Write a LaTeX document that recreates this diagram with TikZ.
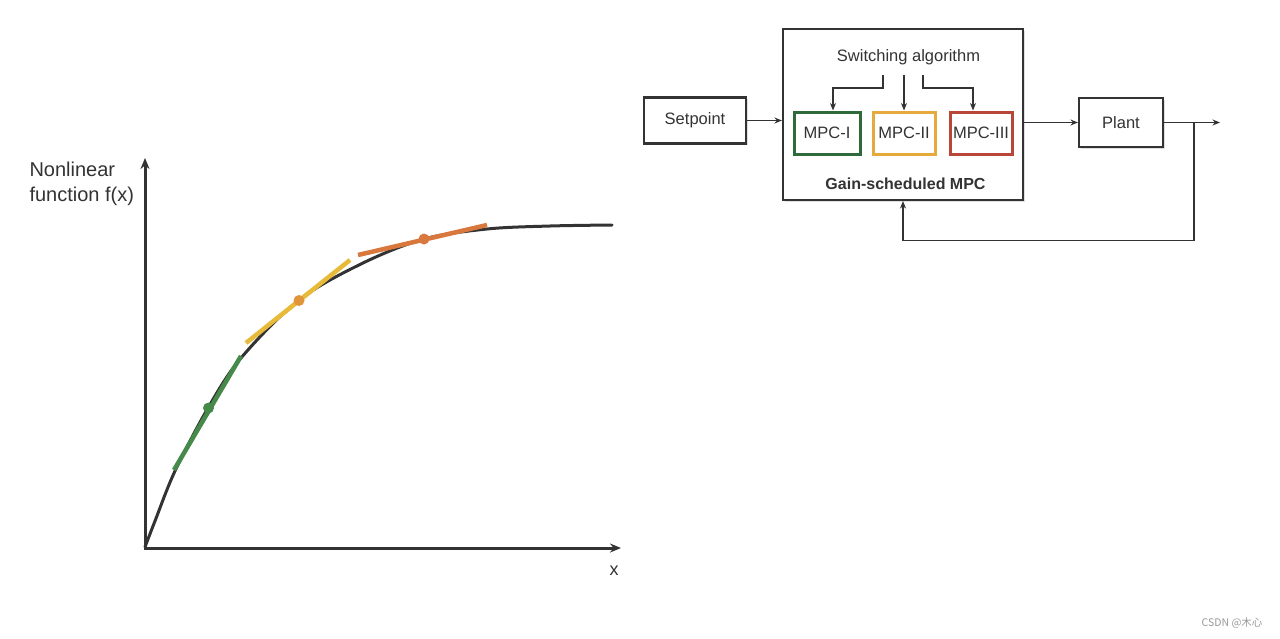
\documentclass[tikz,border=0pt]{standalone}
\usepackage{fontspec}
\setmainfont{Liberation Sans}
\newfontfamily\cjkfont{Noto Sans CJK SC}
\usetikzlibrary{arrows.meta,shadows}
\definecolor{ink}{HTML}{333333}
\definecolor{cgreen}{HTML}{2F6B3A}
\definecolor{cyellow}{HTML}{E6A93C}
\definecolor{cred}{HTML}{B8473A}
\definecolor{tgreen}{HTML}{458A48}
\definecolor{tyellow}{HTML}{E8BA3A}
\definecolor{torange}{HTML}{D9783C}
\definecolor{dyellow}{HTML}{E0953A}
\begin{document}
\begin{tikzpicture}[x=1pt,y=-1pt,
  lbl/.style={font=\fontsize{16.5}{18}\selectfont, text=ink},
  blk/.style={draw=ink, line width=2.1pt, fill=white, inner sep=0pt,
    drop shadow={shadow xshift=1.8pt,shadow yshift=-1.8pt,opacity=0.25}},
  mpcbox/.style={draw=#1, line width=3pt, fill=white, inner sep=0pt,
    minimum width=65pt, minimum height=42pt, lbl},
  arr/.style={draw=ink, line width=1.8pt, -{Stealth[length=7.5pt,width=6pt]}},
  axisarrow/.style={draw=ink, line width=3pt, -{Stealth[length=11pt,width=9pt]}},
  tangent/.style={line width=4.5pt},
  dotmark/.style={circle, fill=#1, minimum size=11pt, inner sep=0pt}]
\fill[white] (0,0) rectangle (1280,638);
\useasboundingbox (0,0) rectangle (1280,638);

% ---------- left: nonlinear function ----------
\coordinate (O) at (145,548);
\coordinate (ytop) at (145,158);
\coordinate (xend) at (621,548);
\draw[axisarrow] (145,549.5) -- (ytop);
\draw[axisarrow] (143.5,548) -- (xend);
\node[anchor=base west, font=\fontsize{20}{24}\selectfont, text=ink] (ylab1) at (26,176.5) {Nonlinear};
\node[anchor=base west, font=\fontsize{20}{24}\selectfont, text=ink] (ylab2) at (26,201.5) {function f(x)};
\node[anchor=base, font=\fontsize{18}{20}\selectfont, text=ink] (xlab) at (614,575) {x};

\draw[ink, line width=3pt, line cap=round] plot[smooth, tension=0.55] coordinates
  {(145,547) (155,521) (175,471) (208,408) (241,358) (299,300) (363,263) (424,239) (487,229) (550,226) (612,225)};

\draw[tgreen, tangent] (174,470) -- (241,356);
\draw[tyellow, tangent] (246,343) -- (350,260);
\draw[torange, tangent] (358,255) -- (487,225);
\node[dotmark=tgreen] (p1) at (208.5,408) {};
\node[dotmark=dyellow] (p2) at (299,300.5) {};
\node[dotmark=torange] (p3) at (424,239) {};

% ---------- right: gain-scheduled MPC ----------
\node[blk, minimum width=102pt, minimum height=46pt, lbl] (sp) at (695,120.5) {Setpoint};
\node[blk, minimum width=240pt, minimum height=171pt] (big) at (903,114.5) {};
\node[lbl] (sw) at (908.5,57) {Switching algorithm};
\node[mpcbox=cgreen, minimum width=66pt] (m1) at (827,133) {MPC-I};
\node[mpcbox=cyellow, minimum width=62pt] (m2) at (904,133) {MPC-II};
\node[mpcbox=cred, minimum width=62pt] (m3) at (981,133) {MPC-III};
\node[font=\fontsize{16}{18}\selectfont\bfseries, text=ink] (gs) at (905.5,183.5) {Gain-scheduled MPC};
\node[blk, minimum width=84pt, minimum height=49pt, lbl] (plant) at (1121,122.5) {Plant};

\coordinate (s1) at (883,75);
\coordinate (s2) at (904,75);
\coordinate (s3) at (923,75);
\coordinate (k1) at (833,88);
\coordinate (k3) at (973,88);
\draw[arr] (s1) |- (k1) -- (k1 |- m1.north);
\draw[arr] (s2) -- (s2 |- m2.north);
\draw[arr] (s3) |- (k3) -- (k3 |- m3.north);

\draw[arr] (sp.east) -- (sp.east -| big.west);
\draw[arr] (plant.west -| big.east) -- (plant.west);
\coordinate (out) at (1220,122.5);
\coordinate (br) at (1194,122.5);
\coordinate (fb) at (903,240.5);
\draw[arr] (plant.east) -- (out);
\draw[arr] (br) |- (fb) -- (big.south);

\node[anchor=base east, font=\cjkfont\fontsize{10.5}{12}\selectfont, text=black!40] (wm) at (1266,626) {CSDN @木心};
\end{tikzpicture}
\end{document}
